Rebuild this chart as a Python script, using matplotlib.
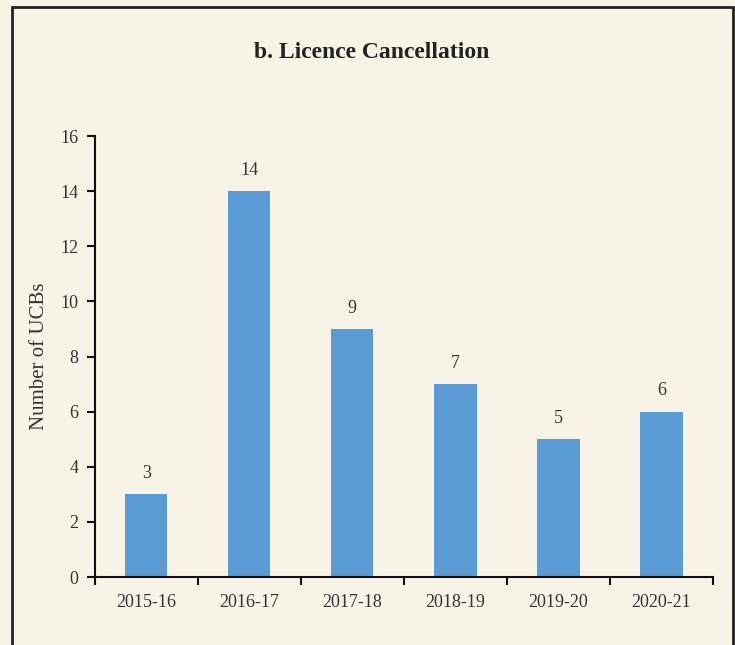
import matplotlib.pyplot as plt
from matplotlib.patches import Rectangle
import numpy as np

years = ["2015-16", "2016-17", "2017-18", "2018-19", "2019-20", "2020-21"]
cancellations = [3, 14, 9, 7, 5, 6]
y_ticks = [0, 2, 4, 6, 8, 10, 12, 14, 16]

BG = "#F8F3E7"
BAR = "#5B9BD5"
TEXT = "#333333"

plt.rcParams["font.family"] = ["Liberation Serif", "DejaVu Serif"]

fig = plt.figure(figsize=(7.35, 6.45), dpi=100)
fig.set_facecolor(BG)
ax = fig.add_axes([0.129, 0.1054, 0.841, 0.6836])
ax.set_facecolor(BG)

x = np.arange(len(years))
ax.bar(x, cancellations, width=0.41, color=BAR)
for xi, v in zip(x, cancellations):
    ax.text(xi, v + 0.45, str(v), ha="center", va="bottom", fontsize=13, color=TEXT)

ax.set_xlim(-0.5, len(years) - 0.5)
ax.set_ylim(0, 16)
ax.set_yticks(y_ticks)
ax.set_xticks(x)
ax.set_xticklabels(years)
ax.set_xticks(np.arange(-0.5, len(years)), minor=True)
ax.tick_params(axis="x", which="major", length=0, pad=12, labelsize=13, labelcolor=TEXT)
ax.tick_params(axis="x", which="minor", length=6, width=1.5, direction="out", color="#111111")
ax.tick_params(axis="y", length=6, width=1.5, direction="out", labelsize=13,
               labelcolor=TEXT, color="#111111", pad=6)

for side in ["top", "right"]:
    ax.spines[side].set_visible(False)
for side in ["left", "bottom"]:
    ax.spines[side].set_linewidth(1.5)
    ax.spines[side].set_color("#111111")

ax.set_ylabel("Number of UCBs", fontsize=15, color=TEXT, labelpad=8)

fig.text(372 / 735, 1 - 52 / 645, "b. Licence Cancellation", ha="center", va="center",
         fontsize=17, fontweight="bold", color="#222222")

# frame around the panel
fig.patches.append(Rectangle((12 / 735, -0.05), (733 - 12) / 735, 1 - 7 / 645 + 0.05,
                             transform=fig.transFigure, fill=False,
                             edgecolor="#222222", linewidth=2))

fig.savefig("out.png", dpi=100, facecolor=BG)
